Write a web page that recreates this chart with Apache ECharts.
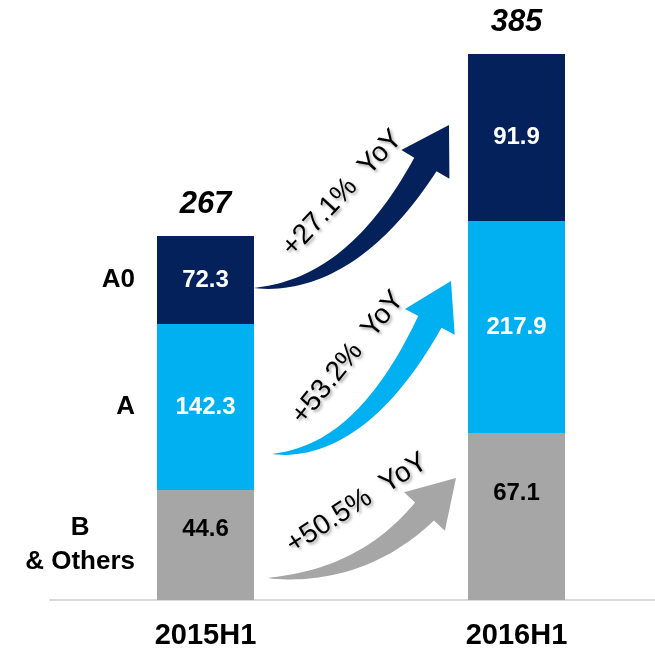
<!DOCTYPE html>
<html>
<head>
<meta charset="utf-8">
<style>
  html, body { margin: 0; padding: 0; background: #fff; }
  #chart { width: 655px; height: 652px; }
</style>
<script src="https://cdn.jsdelivr.net/npm/echarts@6/dist/echarts.min.js"></script>
</head>
<body>
<div id="chart"></div>
<script>
// the source slide is not drawn to scale, so segment heights are read off the picture
// and the printed numbers are kept apart as labels
const categories = ['2015H1', '2016H1']
const seriesNames = ['B\n& Others', 'A', 'A0']
const heightB = [110, 167]
const heightA = [166, 212]
const heightA0 = [88, 167]
const labelB = ['44.6', '67.1']
const labelA = ['142.3', '217.9']
const labelA0 = ['72.3', '91.9']
const totals = ['267', '385']
// growth arrows: start level on the 2015 bar, end level at the 2016 bar, text
const arrowFrom = [22, 146, 312]
const arrowTo = [122, 319, 475]
const arrowText = ['+50.5%  YoY', '+53.2%  YoY', '+27.1%  YoY']

const FONT = 'Arial, "Liberation Sans", sans-serif'
const colors = ['#a6a6a6', '#00b0f0', '#04215b']
const BAR_W = 97
const tailGap = [14, 18, 0]
const tipGap = [12, 17, 19]

const dom = echarts.init(document.getElementById('chart'))

function arrowItem(params, api) {
  const i = params.dataIndex
  const a = api.coord([0, api.value(1)])
  const b = api.coord([1, api.value(2)])
  const T = [a[0] + BAR_W / 2 + tailGap[i], a[1]]
  const P = [b[0] - BAR_W / 2 - tipGap[i], b[1]]
  const HEAD_LEN = 46, HEAD_W = 56, BODY_W = 26
  const C = [T[0] + 0.5 * (P[0] - T[0]), T[1]]
  let ux = P[0] - C[0], uy = P[1] - C[1]
  const L = Math.hypot(ux, uy)
  ux /= L; uy /= L
  const B = [P[0] - ux * HEAD_LEN, P[1] - uy * HEAD_LEN]
  const bez = t => [
    (1 - t) * (1 - t) * T[0] + 2 * t * (1 - t) * C[0] + t * t * B[0],
    (1 - t) * (1 - t) * T[1] + 2 * t * (1 - t) * C[1] + t * t * B[1]
  ]
  const tan = t => {
    const dx = 2 * (1 - t) * (C[0] - T[0]) + 2 * t * (B[0] - C[0])
    const dy = 2 * (1 - t) * (C[1] - T[1]) + 2 * t * (B[1] - C[1])
    const l = Math.hypot(dx, dy)
    return [dx / l, dy / l]
  }
  const upper = [], lower = []
  const N = 40
  for (let k = 0; k <= N; k++) {
    const t = k / N
    const p = bez(t)
    const d = tan(t)
    const w = BODY_W / 2 * Math.pow(t, 0.8)
    upper.push([p[0] + d[1] * w, p[1] - d[0] * w])
    lower.push([p[0] - d[1] * w, p[1] + d[0] * w])
  }
  const pts = upper.concat([
    [B[0] + uy * HEAD_W / 2, B[1] - ux * HEAD_W / 2],
    P,
    [B[0] - uy * HEAD_W / 2, B[1] + ux * HEAD_W / 2]
  ], lower.reverse())

  const tt = 0.7
  const q = bez(tt)
  const d = tan(tt)
  const off = 50
  return {
    type: 'group',
    children: [
      { type: 'polygon', shape: { points: pts }, style: { fill: colors[i] } },
      {
        type: 'text',
        x: q[0] + d[1] * off,
        y: q[1] - d[0] * off,
        rotation: Math.atan2(-d[1], d[0]),
        style: {
          text: arrowText[i],
          fill: '#000',
          font: '28px ' + FONT,
          align: 'center',
          verticalAlign: 'middle',
          textShadowColor: 'rgba(0,0,0,0.35)',
          textShadowBlur: 3,
          textShadowOffsetX: 2,
          textShadowOffsetY: 2
        }
      }
    ]
  }
}

function nameItem(params, api) {
  const p = api.coord([0, api.value(1)])
  const name = seriesNames[params.dataIndex]
  return {
    type: 'text',
    x: p[0] - BAR_W / 2 - 22,
    y: p[1],
    style: {
      text: name.split('\n').map(s => '{n|' + s + '}').join('\n'),
      align: 'right',
      verticalAlign: 'middle',
      rich: { n: { align: 'center', fontSize: 26, fontWeight: 'bold', fontFamily: FONT, fill: '#000', lineHeight: 34 } }
    }
  }
}

const heights = [heightB, heightA, heightA0]
const nameData = heights.map((h, s) => {
  let below = 0
  for (let j = 0; j < s; j++) below += heights[j][0]
  return [0, below + h[0] / 2]
})

const segLabel = (texts, color, position) => ({
  show: true,
  position: position || 'inside',
  align: 'center',
  verticalAlign: 'middle',
  color: color,
  fontSize: 24,
  fontWeight: 'bold',
  fontFamily: FONT,
  formatter: p => texts[p.dataIndex]
})

const option = {
  backgroundColor: '#fff',
  animation: false,
  grid: { left: 50, width: 622, top: 0, bottom: 52, outerBoundsMode: 'none', containLabel: false },
  xAxis: {
    type: 'category',
    data: categories,
    axisLine: { lineStyle: { color: '#d9d9d9', width: 2 } },
    axisTick: { show: false },
    axisLabel: { color: '#000', fontSize: 29, fontWeight: 'bold', fontFamily: FONT, margin: 21 }
  },
  yAxis: { type: 'value', min: 0, max: 600, show: false, splitLine: { show: false } },
  series: [
    {
      name: seriesNames[0], type: 'bar', stack: 'total', barWidth: BAR_W,
      data: heightB, itemStyle: { color: colors[0] },
      label: segLabel(labelB, '#000', ['50%', '36%'])
    },
    {
      name: seriesNames[1], type: 'bar', stack: 'total', barWidth: BAR_W,
      data: heightA, itemStyle: { color: colors[1] },
      label: segLabel(labelA, '#fff')
    },
    {
      name: seriesNames[2], type: 'bar', stack: 'total', barWidth: BAR_W,
      data: heightA0, itemStyle: { color: colors[2] },
      label: segLabel(labelA0, '#fff')
    },
    {
      // totals on top of the stacks
      type: 'bar', stack: 'total', barWidth: BAR_W,
      data: [0, 0], itemStyle: { color: 'transparent' },
      label: {
        show: true, position: 'top', distance: 16,
        color: '#000', fontSize: 31, fontWeight: 'bold', fontStyle: 'italic', fontFamily: FONT,
        formatter: p => totals[p.dataIndex]
      }
    },
    {
      type: 'custom',
      renderItem: arrowItem,
      encode: { x: 0, y: 1 },
      data: arrowFrom.map((v, i) => [0, v, arrowTo[i]]),
      z: 5
    },
    {
      type: 'custom',
      renderItem: nameItem,
      encode: { x: 0, y: 1 },
      data: nameData
    }
  ]
}

dom.setOption(option)
</script>
</body>
</html>
